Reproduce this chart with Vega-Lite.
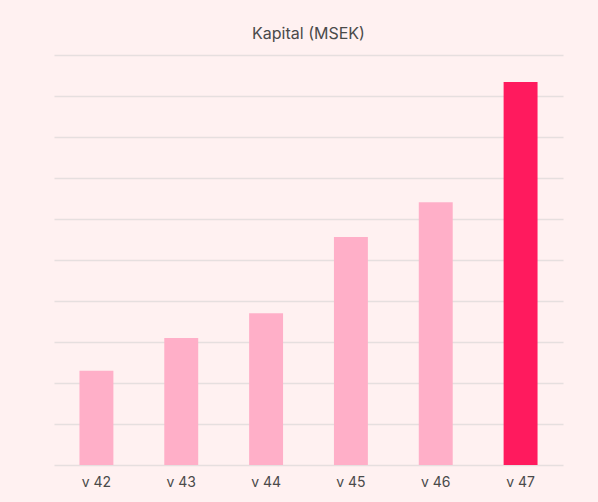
{
  "$schema": "https://vega.github.io/schema/vega-lite/v6.json",
  "description": "Kapital (MSEK) per vecka",
  "autosize": "none",
  "width": 509,
  "height": 410,
  "padding": {"left": 54, "top": 55, "right": 35, "bottom": 37},
  "background": "#fff1f1",
  "title": {
    "text": "Kapital (MSEK)",
    "anchor": "middle",
    "fontSize": 16,
    "fontWeight": "normal",
    "font": "Inter",
    "color": "#4a4a4a",
    "offset": 13
  },
  "data": {
    "values": [
      {"vecka": "v 42", "kapital": 23},
      {"vecka": "v 43", "kapital": 31},
      {"vecka": "v 44", "kapital": 37},
      {"vecka": "v 45", "kapital": 55.6},
      {"vecka": "v 46", "kapital": 64.1},
      {"vecka": "v 47", "kapital": 93.4}
    ]
  },
  "mark": {"type": "bar"},
  "encoding": {
    "x": {
      "field": "vecka",
      "type": "ordinal",
      "scale": {"paddingInner": 0.6, "paddingOuter": 0.3},
      "axis": {
        "title": null,
        "labelAngle": 0,
        "domain": false,
        "ticks": false,
        "labelPadding": 10,
        "labelFontSize": 14,
        "labelFont": "Inter",
        "labelColor": "#4a4a4a"
      }
    },
    "y": {
      "field": "kapital",
      "type": "quantitative",
      "scale": {"domain": [0, 100], "nice": false},
      "axis": {
        "title": null,
        "labels": false,
        "ticks": false,
        "domain": false,
        "values": [0, 10, 20, 30, 40, 50, 60, 70, 80, 90, 100],
        "gridColor": "#e6dfdf",
        "gridWidth": 1.5
      }
    },
    "color": {
      "condition": {"test": "datum.vecka === 'v 47'", "value": "#ff1a5e"},
      "value": "#ffafc8"
    }
  },
  "config": {"view": {"stroke": null}}
}
